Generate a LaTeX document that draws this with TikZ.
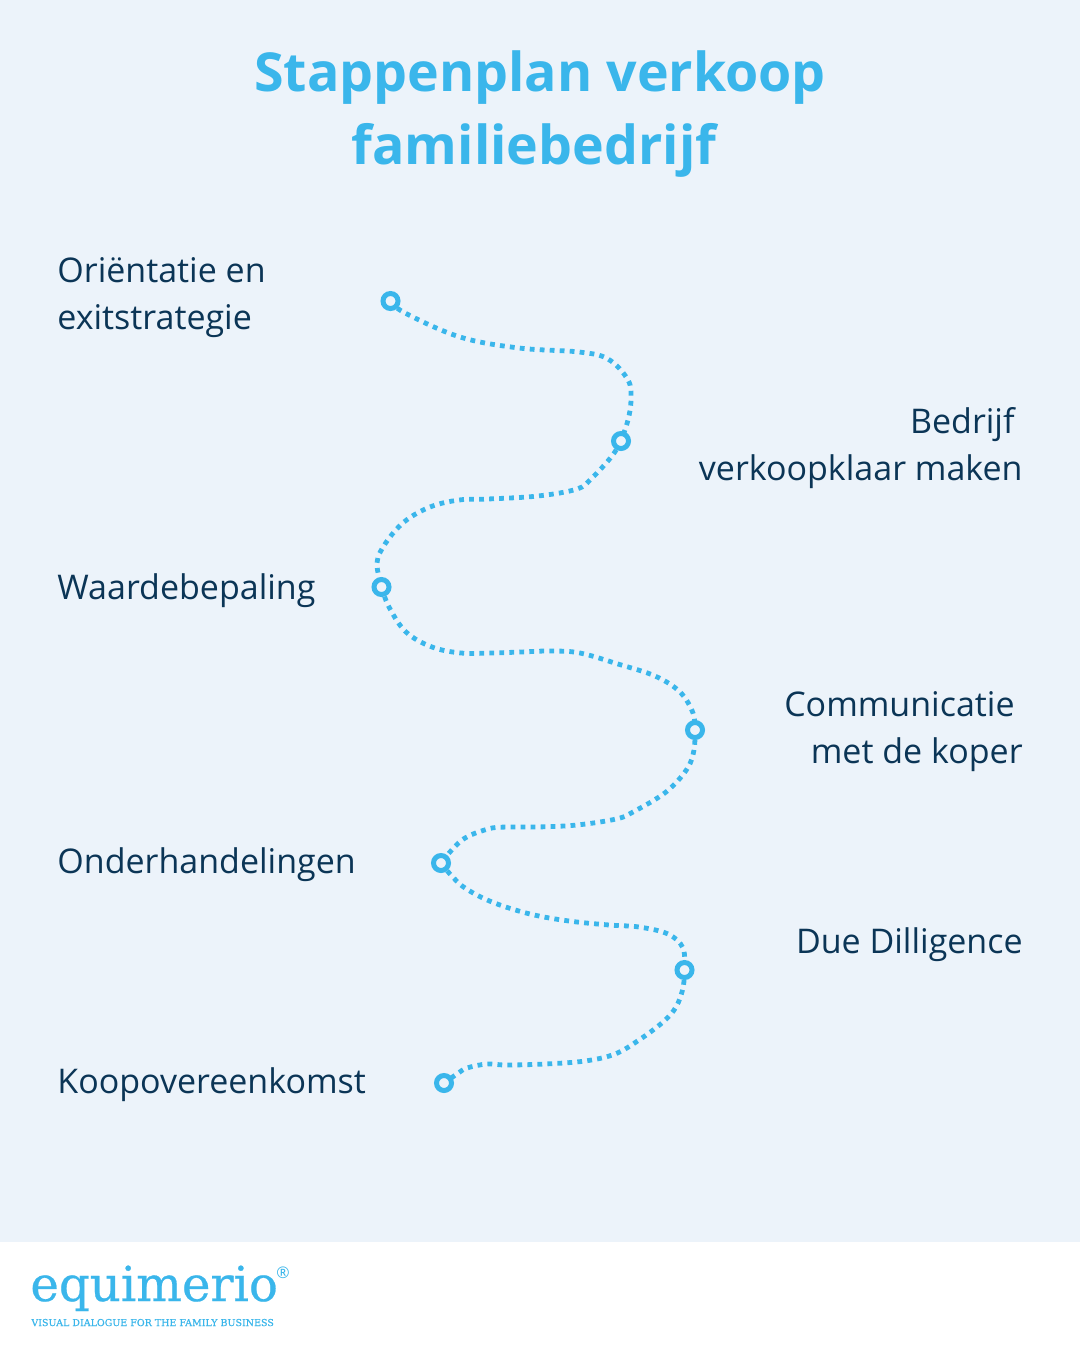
\documentclass[tikz,border=0pt]{standalone}
\usepackage{fontspec}
\setmainfont{Open Sans}
\newfontfamily\eqfont[FakeBold=0.5]{DejaVu Serif}
\usepackage{xcolor}
\usetikzlibrary{backgrounds}
\definecolor{PageBlue}{HTML}{ECF3FA}
\definecolor{SkyBlue}{HTML}{3AB6EB}
\definecolor{InkBlue}{HTML}{0B3556}
\tikzset{
  stepdot/.style={circle,draw=SkyBlue,fill=PageBlue,line width=2.5pt,minimum size=7.5pt,inner sep=0pt},
  route/.style={SkyBlue,line width=2.4pt,dash pattern=on 2.4pt off 2.6pt},
  steptext/.style={text=InkBlue,font=\fontsize{17}{23.5}\selectfont,inner sep=0pt},
  lefttext/.style={steptext,anchor=west,align=left},
  righttext/.style={steptext,anchor=east,align=right}
}
\begin{document}
\begin{tikzpicture}[x=0.5pt,y=-0.5pt]
  \useasboundingbox (0,0) rectangle (1080,1350);
  % title
  \node[text=SkyBlue,font=\fontsize{26.85}{36.5}\selectfont\bfseries,align=center] (title) at (540,114) {Stappenplan verkoop\\familiebedrijf\hspace*{6pt}};
  % steps
  \node[stepdot] (n1) at (390.5,301) {};
  \node[stepdot] (n2) at (621,441) {};
  \node[stepdot] (n3) at (381.5,587) {};
  \node[stepdot] (n4) at (695,730) {};
  \node[stepdot] (n5) at (441,863) {};
  \node[stepdot] (n6) at (684.5,970) {};
  \node[stepdot] (n7) at (444,1083) {};
  \begin{scope}[on background layer]
    \fill[white] (0,0) rectangle (1080,1350);
    \fill[PageBlue] (0,0) rectangle (1080,1242);
    \draw[route] plot[smooth,tension=0.6] coordinates {(n1.center) (405,313) (460,337) (519,348) (579,352) (608,359) (628,380) (631,400) (628,420) (n2.center)};
    \draw[route] plot[smooth,tension=0.6] coordinates {(n2.center) (612,456) (592,478) (577,489) (538,496) (488,499) (459,500) (430,507) (404,522) (385,544) (377,563) (n3.center)};
    \draw[route] plot[smooth,tension=0.6] coordinates {(n3.center) (389,607) (406,632) (432,647) (461,653) (491,653) (521,652) (551,651) (580,653) (618,664) (655,676) (680,692) (693,713) (n4.center)};
    \draw[route] plot[smooth,tension=0.6] coordinates {(n4.center) (694,750) (687,769) (666,792) (633,812) (616,819) (577,825) (537,827) (507,827) (488,829) (462,840) (n5.center)};
    \draw[route] plot[smooth,tension=0.6] coordinates {(n5.center) (450,874) (465,888) (492,902) (530,914) (569,921) (609,925) (639,927) (668,934) (683,948) (n6.center)};
    \draw[route] plot[smooth,tension=0.6] coordinates {(n6.center) (683,988) (676,1007) (663,1022) (639,1040) (615,1054) (585,1061) (545,1064) (506,1065) (487,1064) (467,1068) (457,1074) (n7.center)};
  \end{scope}
  % labels
  \node[lefttext] (t1) at (57,298) {Oriëntatie en\\exitstrategie};
  \node[righttext] (t2) at (1023,448) {Bedrijf\hspace*{4pt}\\verkoopklaar maken};
  \node[lefttext] (t3) at (57,591) {Waardebepaling};
  \node[righttext] (t4) at (1023,732) {Communicatie\hspace*{4pt}\\met de koper};
  \node[lefttext] (t5) at (57,865) {Onderhandelingen};
  \node[righttext] (t6) at (1023,945) {Due Dilligence};
  \node[lefttext] (t7) at (57,1085) {Koopovereenkomst};
  % logo
  \node[text=SkyBlue,anchor=base west,inner sep=0pt] (logo) at (30,1301) {\eqfont\fontsize{24.1}{25}\selectfont equimerio};
  \node[text=SkyBlue,anchor=base west,inner sep=0pt] (tagline) at (31,1326) {\eqfont\fontsize{4.75}{5}\selectfont VISUAL DIALOGUE FOR THE FAMILY BUSINESS};
  \node[text=SkyBlue,font=\fontsize{8}{8}\selectfont,anchor=center,inner sep=0pt] (reg) at (283,1273) {®};
\end{tikzpicture}
\end{document}
